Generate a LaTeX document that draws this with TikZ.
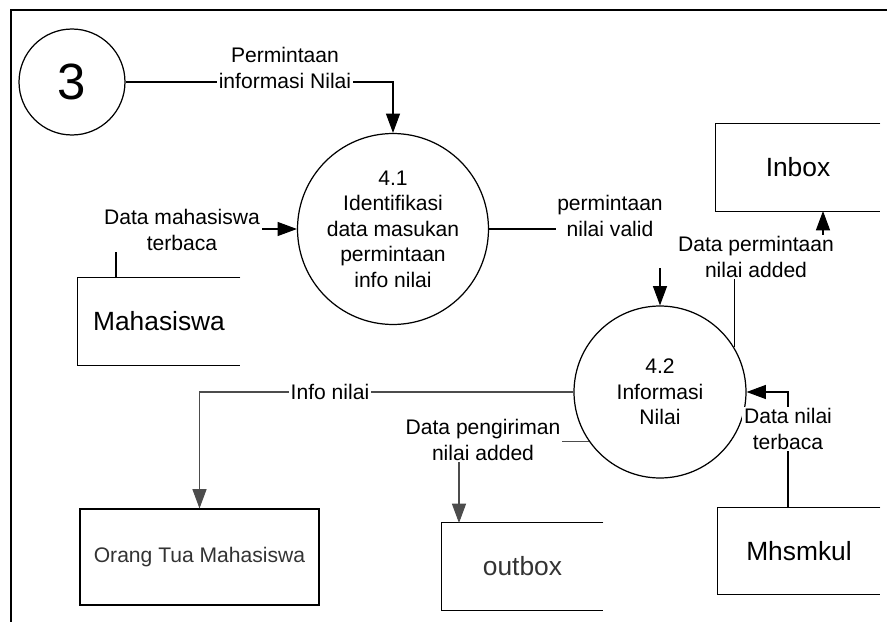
\documentclass[tikz,border=0pt]{standalone}
\usepackage{fontspec}
\setmainfont{Liberation Sans}
\usetikzlibrary{arrows.meta}

\begin{document}
\begin{tikzpicture}[x=0.02cm,y=-0.02cm]
        \tikzset{Proses/.style={circle, draw, line width=0.7pt, align=center, inner sep=0pt,
                        font=\fontsize{12}{14.5}\selectfont},
                Simpan/.style={inner sep=0pt, font=\fontsize{15}{18}\selectfont},
                Luar/.style={draw, line width=0.6pt, inner sep=0pt, minimum width=4.78cm,
                        minimum height=1.92cm, font=\fontsize{12}{14.5}\selectfont, text=black!80},
                Label/.style={fill=white, align=center, inner sep=1pt, font=\fontsize{12}{14.5}\selectfont},
                Alir/.style={line width=0.6pt, -{Triangle[length=11pt, width=8pt]}},
                AlirAbu/.style={Alir, color=black!70}}
        \useasboundingbox (0,0) rectangle (887,622);
        \draw[line width=0.8pt] (887,10) -- (11,10) -- (11,622);
        \node[Proses, minimum size=2.12cm, font=\fontsize{29}{30}\selectfont] (p3) at (72,82) {3};
        \node[Proses, minimum size=3.82cm] (p41) at (393,229) {4.1\\Identifikasi\\data masukan\\permintaan\\info nilai};
        \node[Proses, minimum size=3.44cm] (p42) at (660,392) {4.2\\Informasi\\Nilai};
        \node[Simpan, minimum width=3.24cm, minimum height=1.74cm] (mhs) at (159,321.5) {Mahasiswa};
        \node[Simpan, minimum width=3.28cm, minimum height=1.74cm] (inbox) at (798,167.5) {Inbox};
        \node[Simpan, minimum width=3.24cm, minimum height=1.72cm] (mhsk) at (799,551) {Mhsmkul};
        \node[Simpan, minimum width=3.22cm, minimum height=1.74cm, text=black!80] (outbox) at (522.5,566.5) {outbox};
        \foreach \s in {mhs,inbox,mhsk,outbox}
                \draw[line width=0.7pt] (\s.north east) -- (\s.north west) -- (\s.south west) -- (\s.south east);
        \node[Luar] (ortu) at (199.5,557) {Orang Tua Mahasiswa};
        \coordinate (mhsout) at (116,278);
        \coordinate (vujung) at (557,229);
        \coordinate (vturun) at (660,268);
        \coordinate (knadd) at (756,257);
        \coordinate (inbin) at (823,211);
        \coordinate (outin) at (459,523);
        \coordinate (mkout) at (788,508);
        \draw[Alir] (p3.east) -| (p41.north);
        \draw[Alir] (mhsout) |- (p41.west);
        \draw[line width=0.6pt] (p41.east) -- (vujung);
        \draw[Alir] (vturun) -- (p42.north);
        \draw[Alir] (p42.31) |- (knadd) -| (inbin);
        \draw[AlirAbu] (p42.west) -| (ortu.north);
        \draw[AlirAbu] (p42.215) -| (outin);
        \draw[Alir] (mkout) |- (p42.east);
        \node[Label] (lminta) at (285,68) {Permintaan\\informasi Nilai};
        \node[Label] (lmhs) at (182,230) {Data mahasiswa\\terbaca};
        \node[Label] (lvalid) at (610,216) {permintaan\\nilai valid};
        \node[Label] (lnadd) at (knadd) {Data permintaan\\nilai added};
        \node[Label] (linfo) at (330,392) {Info nilai};
        \node[Label] (lkirim) at (483,440) {Data pengiriman\\nilai added};
        \node[Label] (lnilai) at (788,429) {Data nilai\\terbaca};
\end{tikzpicture}
\end{document}
